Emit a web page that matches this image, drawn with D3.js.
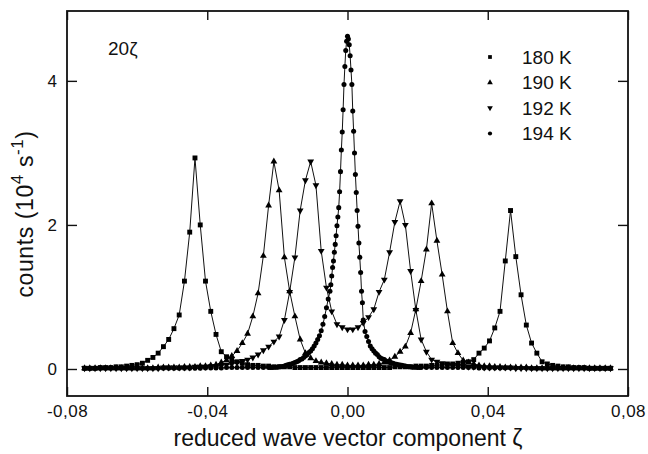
<!DOCTYPE html>
<html>
<head>
<meta charset="utf-8">
<script src="https://cdn.jsdelivr.net/npm/d3@7"></script>
<style>
  body { margin: 0; background: #fff; }
  text { font-family: "Liberation Sans", Arial, sans-serif; fill: #111; }
</style>
</head>
<body>
<div id="chart"></div>
<script>
// DATA
// common scan grid for 180 K, 190 K, 192 K
const zeta = [-0.075,-0.0735,-0.072,-0.0705,-0.069,-0.0675,-0.066,-0.0645,-0.063,-0.0615,
  -0.06,-0.0585,-0.057,-0.0555,-0.054,-0.0525,-0.051,-0.0495,-0.048,-0.0465,
  -0.045,-0.0435,-0.042,-0.0405,-0.039,-0.0375,-0.036,-0.0345,-0.033,-0.0315,
  -0.03,-0.0285,-0.027,-0.0255,-0.024,-0.0225,-0.021,-0.0195,-0.018,-0.0165,
  -0.015,-0.0135,-0.012,-0.0105,-0.009,-0.0075,-0.006,-0.0045,-0.003,-0.0015,
  0,0.0015,0.003,0.0045,0.006,0.0075,0.009,0.0105,0.012,0.0135,
  0.015,0.0165,0.018,0.0195,0.021,0.0225,0.024,0.0255,0.027,0.0285,
  0.03,0.0315,0.033,0.0345,0.036,0.0375,0.039,0.0405,0.042,0.0435,
  0.045,0.0465,0.048,0.0495,0.051,0.0525,0.054,0.0555,0.057,0.0585,
  0.06,0.0615,0.063,0.0645,0.066,0.0675,0.069,0.0705,0.072,0.0735,
  0.075]

const counts180 = [0.01,0.01,0.01,0.02,0.02,0.02,0.03,0.03,0.04,0.05,
  0.06,0.08,0.12,0.16,0.22,0.31,0.41,0.56,0.75,1.22,
  1.90,2.93,2.00,1.22,0.80,0.48,0.24,0.17,0.13,0.10,
  0.08,0.06,0.05,0.05,0.04,0.04,0.03,0.03,0.03,0.03,
  0.02,0.02,0.02,0.02,0.02,0.02,0.02,0.02,0.02,0.02,
  0.02,0.02,0.02,0.02,0.02,0.02,0.02,0.02,0.02,0.03,
  0.03,0.03,0.03,0.04,0.04,0.04,0.05,0.05,0.06,0.07,
  0.07,0.08,0.09,0.10,0.13,0.22,0.29,0.39,0.57,0.80,
  1.50,2.20,1.56,1.03,0.61,0.36,0.22,0.10,0.07,0.05,
  0.04,0.03,0.03,0.02,0.02,0.02,0.01,0.01,0.01,0.01,
  0.01]

const counts190 = [0.01,0.01,0.01,0.01,0.01,0.01,0.01,0.01,0.01,0.01,
  0.01,0.01,0.01,0.01,0.02,0.02,0.02,0.02,0.02,0.03,
  0.03,0.03,0.04,0.04,0.05,0.06,0.09,0.12,0.18,0.25,
  0.36,0.49,0.73,1.05,1.57,2.27,2.88,2.48,1.55,1.08,
  0.73,0.41,0.22,0.15,0.11,0.09,0.08,0.07,0.06,0.06,
  0.05,0.05,0.05,0.05,0.06,0.06,0.07,0.09,0.12,0.17,
  0.24,0.31,0.50,0.83,1.22,1.66,2.30,1.78,1.31,0.80,
  0.36,0.22,0.12,0.09,0.07,0.05,0.04,0.04,0.03,0.03,
  0.02,0.02,0.02,0.02,0.02,0.01,0.01,0.01,0.01,0.01,
  0.01,0.01,0.01,0.01,0.01,0.01,0.01,0.01,0.01,0.01,
  0.01]

const counts192 = [0.01,0.01,0.01,0.01,0.01,0.01,0.01,0.01,0.01,0.01,
  0.01,0.01,0.01,0.01,0.01,0.02,0.02,0.02,0.02,0.02,
  0.02,0.03,0.03,0.03,0.04,0.04,0.05,0.06,0.07,0.09,
  0.11,0.13,0.16,0.20,0.26,0.31,0.38,0.45,0.68,1.07,
  1.55,2.20,2.62,2.88,2.55,1.64,1.13,0.80,0.62,0.58,
  0.55,0.55,0.58,0.64,0.72,0.83,1.07,1.24,1.62,2.04,
  2.33,2.00,1.36,0.82,0.41,0.24,0.13,0.10,0.08,0.06,
  0.05,0.04,0.04,0.03,0.03,0.03,0.02,0.02,0.02,0.02,
  0.02,0.02,0.01,0.01,0.01,0.01,0.01,0.01,0.01,0.01,
  0.01,0.01,0.01,0.01,0.01,0.01,0.01,0.01,0.01,0.01,
  0.01]

// 194 K was scanned finer around the centre
const zeta194 = [-0.075,-0.0735,-0.072,-0.0705,-0.069,-0.0675,-0.066,-0.0645,-0.063,-0.0615,
  -0.06,-0.0585,-0.057,-0.0555,-0.054,-0.0525,-0.051,-0.0495,-0.048,-0.0465,
  -0.045,-0.0435,-0.042,-0.0405,-0.039,-0.0375,-0.036,-0.0345,-0.033,-0.0315,
  -0.03,-0.0285,-0.027,-0.0255,-0.024,-0.0225,
  -0.022,-0.0215,-0.021,-0.0205,-0.02,-0.0195,-0.019,-0.0185,-0.018,-0.0175,
  -0.017,-0.0165,-0.016,-0.0155,-0.015,-0.0145,-0.014,-0.0135,-0.013,-0.0125,
  -0.012,-0.0115,-0.011,-0.0105,-0.01,-0.0095,-0.009,-0.0085,-0.008,-0.0075,
  -0.007,-0.0065,-0.006,-0.0055,
  -0.005,-0.00475,-0.0045,-0.00425,-0.004,-0.00375,-0.0035,-0.00325,-0.003,-0.00275,
  -0.0025,-0.00225,-0.002,-0.00175,-0.0015,-0.00125,-0.001,-0.00075,-0.0005,-0.00025,
  0,0.00025,0.0005,0.00075,0.001,0.00125,0.0015,0.00175,0.002,0.00225,
  0.0025,0.00275,0.003,0.00325,0.0035,0.00375,0.004,0.00425,
  0.0045,0.005,0.0055,0.006,0.0065,0.007,0.0075,0.008,0.0085,0.009,
  0.0095,0.01,0.0105,0.011,0.0115,0.012,0.0125,0.013,0.0135,0.014,
  0.0145,0.015,0.0155,0.016,0.0165,0.017,0.0175,0.018,0.0185,0.019,
  0.0195,0.02,0.0205,0.021,
  0.0225,0.024,0.0255,0.027,0.0285,0.03,0.0315,0.033,0.0345,0.036,
  0.0375,0.039,0.0405,0.042,0.0435,0.045,0.0465,0.048,0.0495,0.051,
  0.0525,0.054,0.0555,0.057,0.0585,0.06,0.0615,0.063,0.0645,0.066,
  0.0675,0.069,0.0705,0.072,0.0735,0.075]

const counts194 = [0.01,0.01,0.01,0.01,0.01,0.01,0.01,0.01,0.01,0.01,
  0.01,0.01,0.01,0.01,0.01,0.01,0.01,0.01,0.01,0.01,
  0.01,0.01,0.01,0.015,0.015,0.015,0.015,0.02,0.02,0.02,
  0.02,0.02,0.02,0.02,0.02,0.02,
  0.02,0.02,0.025,0.025,0.025,0.03,0.03,0.035,0.04,0.05,
  0.06,0.065,0.07,0.08,0.09,0.10,0.11,0.13,0.14,0.16,
  0.18,0.20,0.23,0.25,0.28,0.32,0.36,0.41,0.46,0.53,
  0.62,0.73,0.85,0.97,
  1.08,1.17,1.29,1.41,1.50,1.62,1.73,1.85,1.99,2.11,
  2.24,2.46,2.74,3.04,3.29,3.60,3.95,4.20,4.42,4.55,
  4.62,4.58,4.50,4.35,4.15,3.95,3.58,3.30,3.00,2.70,
  2.45,2.20,1.98,1.75,1.55,1.34,1.08,0.92,
  0.68,0.52,0.45,0.38,0.32,0.28,0.25,0.22,0.20,0.17,
  0.15,0.14,0.13,0.11,0.10,0.09,0.085,0.08,0.07,0.065,
  0.06,0.055,0.05,0.045,0.04,0.035,0.03,0.03,0.025,0.025,
  0.025,0.02,0.02,0.02,
  0.02,0.02,0.02,0.02,0.02,0.02,0.02,0.02,0.02,0.02,
  0.015,0.015,0.015,0.015,0.015,0.015,0.015,0.015,0.015,0.015,
  0.01,0.01,0.01,0.01,0.01,0.01,0.01,0.01,0.01,0.01,
  0.01,0.01,0.01,0.01,0.01,0.01]

const seriesNames = ["180 K", "190 K", "192 K", "194 K"]
const xTicks = [-0.08, -0.04, 0, 0.04, 0.08]
const yTicks = [0, 2, 4]

// SETUP
const width = 648, height = 454
const svg = d3.select("#chart")
    .append("svg")
    .attr("width", width)
    .attr("height", height)

// SCALES
const xScale = d3.scaleLinear().domain([-0.08, 0.08]).range([67, 628])
const yScale = d3.scaleLinear().domain([-0.375, 4.97]).range([396, 11])

const fmt = d => d3.format(".2f")(d).replace("−", "-").replace(".", ",")

// DRAW AXES (all ticks point inwards)
svg.append("g")
    .attr("transform", `translate(0, ${yScale.range()[0]})`)
    .call(d3.axisBottom(xScale).tickValues(xTicks).tickSize(-9).tickPadding(9).tickFormat(fmt))
    .call(g => g.selectAll("text").attr("font-size", 17).attr("letter-spacing", 0.5))
svg.append("g")
    .attr("transform", `translate(0, ${yScale.range()[1]})`)
    .call(d3.axisTop(xScale).tickValues(xTicks).tickSize(-9).tickFormat(""))
svg.append("g")
    .attr("transform", `translate(${xScale.range()[0]}, 0)`)
    .call(d3.axisLeft(yScale).tickValues(yTicks).tickSize(-10).tickPadding(10).tickFormat(d3.format("d")))
    .call(g => g.selectAll("text").attr("font-size", 17))
svg.append("g")
    .attr("transform", `translate(${xScale.range()[1]}, 0)`)
    .call(d3.axisRight(yScale).tickValues(yTicks).tickSize(-10).tickFormat(""))

svg.selectAll(".domain").remove()
svg.selectAll(".tick line").attr("stroke", "#111").attr("stroke-width", 1.4)
svg.selectAll(".tick text").attr("fill", "#111")

// frame
svg.append("rect")
    .attr("x", xScale.range()[0])
    .attr("y", yScale.range()[1])
    .attr("width", xScale.range()[1] - xScale.range()[0])
    .attr("height", yScale.range()[0] - yScale.range()[1])
    .attr("fill", "none")
    .attr("stroke", "#111")
    .attr("stroke-width", 1.8)

// SERIES
const downTriangle = {
    draw(ctx, size) {
        const s = Math.sqrt(size / (Math.sqrt(3) / 4))
        const h = s * Math.sqrt(3) / 2
        ctx.moveTo(-s / 2, -h / 3)
        ctx.lineTo(s / 2, -h / 3)
        ctx.lineTo(0, 2 * h / 3)
        ctx.closePath()
    }
}
const upTriangle = {
    draw(ctx, size) {
        const s = Math.sqrt(size / (Math.sqrt(3) / 4))
        const h = s * Math.sqrt(3) / 2
        ctx.moveTo(-s / 2, h / 3)
        ctx.lineTo(s / 2, h / 3)
        ctx.lineTo(0, -2 * h / 3)
        ctx.closePath()
    }
}

const series = [
    { name: seriesNames[0], xs: zeta,    ys: counts180, type: d3.symbolSquare, size: 24 },
    { name: seriesNames[1], xs: zeta,    ys: counts190, type: upTriangle,      size: 20 },
    { name: seriesNames[2], xs: zeta,    ys: counts192, type: downTriangle,    size: 20 },
    { name: seriesNames[3], xs: zeta194, ys: counts194, type: d3.symbolCircle, size: 20 }
]

const line = d3.line()
    .x(d => xScale(d[0]))
    .y(d => yScale(d[1]))

const plot = svg.append("g")

series.forEach(s => {
    const pts = s.xs.map((z, i) => [z, s.ys[i]])
    plot.append("path")
        .datum(pts)
        .attr("d", line)
        .attr("fill", "none")
        .attr("stroke", "#111")
        .attr("stroke-width", 1)
    plot.append("g")
        .selectAll("path")
        .data(pts)
        .join("path")
        .attr("transform", d => `translate(${xScale(d[0])}, ${yScale(d[1])})`)
        .attr("d", d3.symbol().type(s.type).size(s.size))
        .attr("fill", "#000")
})

// LEGEND
const legend = svg.append("g")
    .selectAll("g")
    .data(series)
    .join("g")
    .attr("transform", (d, i) => `translate(490, ${57 + i * 25.5})`)
legend.append("path")
    .attr("d", d => d3.symbol().type(d.type).size(14)())
    .attr("fill", "#000")
legend.append("text")
    .attr("x", 32)
    .attr("dy", "0.36em")
    .attr("font-size", 19)
    .text(d => d.name)

// LABELS
svg.append("text")
    .attr("x", 108)
    .attr("y", 55)
    .attr("font-size", 19)
    .text("20ζ")

svg.append("text")
    .attr("x", 348)
    .attr("y", 446)
    .attr("text-anchor", "middle")
    .attr("font-size", 23)
    .text("reduced wave vector component ζ")

const yTitle = svg.append("text")
    .attr("transform", "translate(33, 214) rotate(-90)")
    .attr("text-anchor", "middle")
    .attr("font-size", 23)
    .attr("letter-spacing", 0.6)
yTitle.append("tspan").text("counts (10")
yTitle.append("tspan").attr("font-size", 17).attr("dy", -10).text("4")
yTitle.append("tspan").attr("dy", 10).text(" s")
yTitle.append("tspan").attr("font-size", 17).attr("dy", -10).text("-1")
yTitle.append("tspan").attr("dy", 10).text(")")
</script>
</body>
</html>
